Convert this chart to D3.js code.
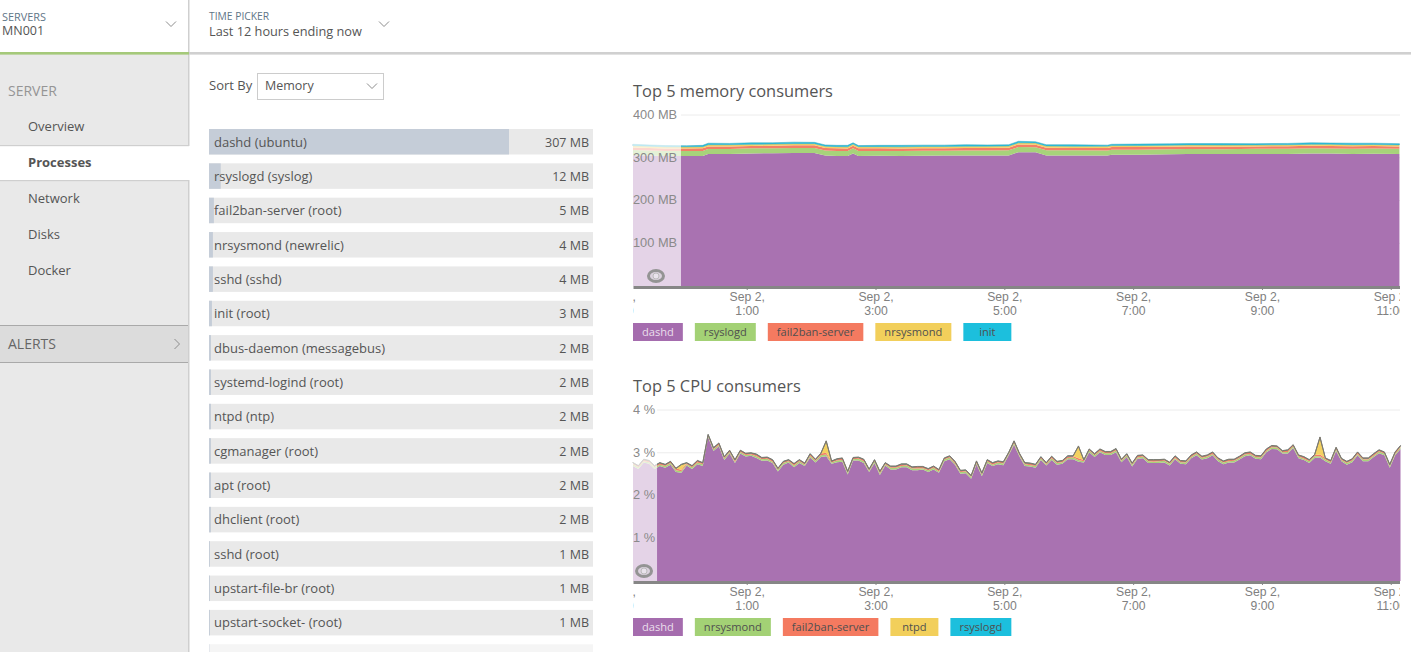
<!DOCTYPE html>
<html>
<head>
<meta charset="utf-8">
<title>Processes</title>
<script src="https://cdn.jsdelivr.net/npm/d3@7"></script>
<style>
  html, body { margin: 0; padding: 0; background: #fff; overflow: hidden; }
  svg { display: block; font-family: "Open Sans", sans-serif; }
  text { fill: #555; }
</style>
</head>
<body>
<div id="page"></div>
<script>
// left hand process list
var processNames = ['dashd (ubuntu)', 'rsyslogd (syslog)', 'fail2ban-server (root)', 'nrsysmond (newrelic)', 'sshd (sshd)', 'init (root)', 'dbus-daemon (messagebus)', 'systemd-logind (root)', 'ntpd (ntp)', 'cgmanager (root)', 'apt (root)', 'dhclient (root)', 'sshd (root)', 'upstart-file-br (root)', 'upstart-socket- (root)', 'rpcbind (root)'];
var processMemory = [307, 12, 5, 4, 4, 3, 2, 2, 2, 2, 2, 2, 1, 1, 1, 1];
var navItems = ['Overview', 'Processes', 'Network', 'Disks', 'Docker'];

// memory chart, sampled at minutes after the left edge of the chart
var memMinutes = [0, 15, 30, 50, 65, 70, 90, 110, 130, 150, 169, 179, 190, 200, 205, 210, 230, 250, 270, 290, 310, 330, 350, 359, 375, 385, 410, 442, 446, 470, 500, 517, 550, 580, 610, 632, 650, 670, 690, 714];
var memDashd = [306, 305, 304, 304, 304, 308.5, 309, 310, 310.5, 311, 311, 305, 304, 304, 310, 304, 304.5, 304, 304.5, 305, 305, 305, 305.5, 313, 313, 305.5, 305.5, 305.5, 307, 307, 308, 308.6, 308.6, 309, 309, 310, 310, 309, 309.5, 309];
var memRsyslogd = [12, 12, 11.5, 11.5, 12, 12, 11.5, 12, 11.5, 12, 12, 12, 12, 11.5, 12, 12, 11.5, 12, 12, 11.5, 12, 12, 12, 12, 11.5, 12, 12, 11.5, 12, 12, 12, 12, 11.5, 12, 12, 12, 11.5, 12, 12, 12];
var memFail2ban = [6, 6, 6, 6, 6, 6, 6, 5.5, 6, 6, 6, 6, 6, 6, 6, 6, 6, 5.5, 6, 6, 6, 6, 6, 6, 6, 6, 5.5, 6, 6, 6, 5.5, 5.5, 5.5, 5.5, 6, 6, 6, 6, 6, 5.5];
var memNrsysmond = [4, 4, 4, 4, 4, 4, 4, 4, 4, 4, 4, 4, 4, 4, 4, 4, 4, 4, 4, 4, 4, 4, 4, 4, 4, 4, 4, 4, 3.5, 3.5, 4, 4, 4, 3.5, 3.5, 3.5, 4, 3.5, 3.5, 3.5];
var memInit = [3.5, 3, 3, 2.5, 3, 3.5, 3, 3.5, 3, 3.5, 3, 3, 3, 3.5, 3, 2.5, 3, 3.5, 3, 3, 3.5, 3, 3, 3.5, 3, 3, 3.5, 2.5, 3, 3.5, 3, 3, 3.5, 3, 3, 3.5, 3, 3.5, 3, 3];

// cpu chart, one sample every five minutes
var cpuDashd = [
  2.69, 2.62, 2.77, 2.74, 2.62, 2.69, 2.65, 2.72, 2.55, 2.53, 2.70, 2.62,
  2.73, 2.69, 3.36, 3.04, 3.15, 2.83, 2.98, 2.76, 2.98, 2.91, 2.93, 2.88,
  2.81, 2.82, 2.76, 2.56, 2.72, 2.77, 2.66, 2.76, 2.69, 2.89, 2.77, 2.90,
  2.92, 2.74, 2.78, 2.79, 2.49, 2.82, 2.82, 2.76, 2.55, 2.76, 2.48, 2.70,
  2.61, 2.61, 2.66, 2.66, 2.59, 2.59, 2.61, 2.55, 2.61, 2.53, 2.80, 2.85,
  2.72, 2.51, 2.52, 2.39, 2.73, 2.45, 2.76, 2.69, 2.73, 2.71, 2.94, 3.19,
  2.91, 2.69, 2.68, 2.65, 2.83, 2.70, 2.83, 2.72, 2.74, 2.85, 2.85, 2.79,
  2.77, 3.01, 2.90, 3.01, 2.95, 2.95, 3.01, 2.78, 2.90, 2.68, 2.86, 2.87,
  2.76, 2.76, 2.76, 2.77, 2.70, 2.85, 2.74, 2.73, 2.87, 2.94, 2.84, 2.87,
  2.94, 2.80, 2.73, 2.77, 2.77, 2.84, 2.92, 2.94, 2.86, 2.85, 3.01, 3.09,
  3.08, 2.98, 2.98, 3.11, 2.87, 2.83, 2.76, 2.88, 2.89, 2.80, 2.74, 3.04,
  2.80, 2.72, 2.78, 2.94, 2.80, 2.80, 2.90, 2.99, 2.94, 2.65, 2.94, 3.09
];
var cpuNrsysmond = [
  .04, .04, .03, .04, .04, .03, .04, .04, .04, .04, .03, .04,
  .04, .04, .03, .04, .03, .04, .04, .03, .04, .04, .03, .04,
  .04, .04, .03, .04, .04, .03, .04, .04, .03, .04, .04, .04,
  .04, .03, .04, .04, .04, .03, .04, .04, .03, .04, .04, .03,
  .04, .04, .03, .04, .04, .04, .03, .04, .04, .03, .04, .04,
  .03, .04, .04, .04, .03, .04, .04, .03, .04, .04, .03, .04,
  .04, .04, .03, .04, .04, .03, .04, .04, .04, .03, .04, .04,
  .03, .04, .04, .03, .04, .04, .04, .03, .04, .04, .03, .04,
  .04, .03, .04, .04, .04, .03, .04, .04, .03, .04, .04, .04,
  .03, .04, .04, .03, .04, .04, .04, .03, .04, .04, .03, .04,
  .04, .03, .04, .04, .04, .03, .04, .04, .03, .04, .04, .04,
  .03, .04, .04, .03, .04, .04, .03, .04, .04, .04, .03, .04
];
var cpuFail2ban = [
  .03, .03, .04, .03, .03, .04, .03, .03, .04, .03, .03, .03,
  .04, .03, .03, .03, .04, .03, .03, .04, .03, .03, .03, .04,
  .03, .03, .04, .03, .03, .03, .04, .03, .03, .04, .03, .04,
  .04, .03, .03, .04, .03, .03, .03, .04, .03, .03, .04, .03,
  .03, .03, .04, .03, .03, .04, .03, .03, .03, .04, .03, .03,
  .04, .03, .03, .03, .04, .03, .03, .04, .03, .03, .03, .04,
  .03, .03, .04, .03, .03, .03, .04, .03, .03, .04, .03, .04,
  .03, .03, .03, .04, .03, .03, .04, .03, .03, .03, .04, .03,
  .03, .04, .03, .03, .03, .04, .03, .03, .04, .03, .03, .03,
  .04, .03, .03, .04, .03, .03, .03, .04, .03, .03, .04, .03,
  .03, .03, .04, .03, .03, .04, .03, .03, .04, .03, .03, .04,
  .03, .03, .03, .04, .03, .03, .04, .03, .03, .03, .04, .03
];
var cpuNtpd = [
  0, 0, 0, 0, 0, 0, 0, 0, 0, .12, 0, 0,
  0, 0, 0, 0, 0, 0, 0, 0, 0, 0, 0, 0,
  0, 0, 0, 0, 0, 0, 0, 0, 0, 0, 0, 0,
  .27, 0, 0, 0, 0, 0, 0, 0, 0, 0, 0, 0,
  0, 0, 0, 0, 0, 0, 0, 0, 0, 0, 0, 0,
  0, 0, 0, 0, 0, 0, 0, 0, 0, 0, 0, 0,
  0, 0, 0, 0, 0, 0, 0, 0, 0, 0, 0, .28,
  0, 0, 0, 0, 0, 0, 0, 0, 0, 0, 0, 0,
  0, 0, 0, 0, 0, 0, 0, 0, 0, 0, 0, 0,
  0, 0, 0, 0, 0, 0, 0, 0, 0, 0, 0, 0,
  0, 0, 0, 0, 0, 0, 0, 0, .40, 0, 0, 0,
  0, 0, 0, 0, 0, 0, 0, 0, 0, 0, 0, 0
];
var cpuRsyslogd = [
  .01, .01, .01, .01, .01, .01, .01, .01, .01, .01, .01, .01,
  .01, .01, .01, .01, .01, .01, .01, .01, .01, .01, .01, .01,
  .01, .01, .01, .01, .01, .01, .01, .01, .01, .01, .01, .01,
  .01, .01, .01, .01, .01, .01, .01, .01, .01, .01, .01, .01,
  .01, .01, .01, .01, .01, .01, .01, .01, .01, .01, .01, .01,
  .01, .01, .01, .01, .01, .01, .01, .01, .01, .01, .01, .01,
  .01, .01, .01, .01, .01, .01, .01, .01, .01, .01, .01, .01,
  .01, .01, .01, .01, .01, .01, .01, .01, .01, .01, .01, .01,
  .01, .01, .01, .01, .01, .01, .01, .01, .01, .01, .01, .01,
  .01, .01, .01, .01, .01, .01, .01, .01, .01, .01, .01, .01,
  .01, .01, .01, .01, .01, .01, .01, .01, .01, .01, .01, .01,
  .01, .01, .01, .01, .01, .01, .01, .01, .01, .01, .01, .01
];

var memTicks = [100, 200, 300, 400];
var cpuTicks = [1, 2, 3, 4];
var timeTickHours = [-1, 1, 3, 5, 7, 9, 11];
var layerColors = ['#a56cae', '#a3d175', '#f47a60', '#f2cf5b', '#1cbfdd'];

var svg = d3.select('#page').append('svg')
    .attr('width', 1411).attr('height', 652);

var t0 = new Date(2016, 8, 1, 23, 14, 4);
var t1 = new Date(2016, 8, 2, 11, 8, 36);
function minutesAfter(m) { return new Date(t0.getTime() + m * 60000); }

// ---- page chrome ----
svg.append('rect').attr('x', 0).attr('y', 54).attr('width', 188).attr('height', 598).attr('fill', '#e9e9e9');
svg.append('rect').attr('x', 188).attr('y', 0).attr('width', 1.5).attr('height', 652).attr('fill', '#cfcfcf');
svg.append('rect').attr('x', 0).attr('y', 146).attr('width', 190).attr('height', 34).attr('fill', '#fff');
svg.append('rect').attr('x', 0).attr('y', 145).attr('width', 189).attr('height', 1.2).attr('fill', '#cfcfcf');
svg.append('rect').attr('x', 0).attr('y', 180).attr('width', 189).attr('height', 1.2).attr('fill', '#cfcfcf');
svg.append('rect').attr('x', 0).attr('y', 325).attr('width', 188).attr('height', 37).attr('fill', '#dcdcdc');
svg.append('rect').attr('x', 0).attr('y', 325).attr('width', 188).attr('height', 1).attr('fill', '#a9a9a9');
svg.append('rect').attr('x', 0).attr('y', 362).attr('width', 188).attr('height', 1).attr('fill', '#a9a9a9');
svg.append('rect').attr('x', 189).attr('y', 52).attr('width', 1222).attr('height', 2.6).attr('fill', '#d0d0d0');
svg.append('rect').attr('x', 0).attr('y', 52).attr('width', 189).attr('height', 2.6).attr('fill', '#a5c97a');

function label(x, y, str, size, color, weight) {
    return svg.append('text')
        .attr('x', x).attr('y', y)
        .attr('dominant-baseline', 'central')
        .style('font-size', size + 'px')
        .style('fill', color)
        .style('font-weight', weight || 400)
        .text(str);
}

function chevron(x, y, size, right) {
    var pts = right
        ? [[x - size / 2, y - size], [x + size / 2, y], [x - size / 2, y + size]]
        : [[x - size, y - size / 2], [x, y + size / 2], [x + size, y - size / 2]];
    svg.append('path')
        .attr('d', d3.line()(pts))
        .attr('fill', 'none')
        .attr('stroke', '#8d8d8d')
        .attr('stroke-width', 1);
}

label(2, 16, 'SERVERS', 10.9, '#5f7687');
label(2, 30, 'MN001', 12.5, '#555');
chevron(171, 24, 5);
label(209, 16, 'TIME PICKER', 10.3, '#5f7687');
label(209, 30.5, 'Last 12 hours ending now', 12.75, '#555');
chevron(384, 24, 5);

label(8, 90, 'SERVER', 14, '#959595');
svg.selectAll('text.nav')
    .data(navItems).enter()
    .append('text')
        .attr('class', 'nav')
        .attr('x', 28)
        .attr('y', function (d, i) { return 125.5 + i * 36; })
        .attr('dominant-baseline', 'central')
        .style('font-size', '13px')
        .style('font-weight', function (d) { return d === 'Processes' ? 700 : 400; })
        .text(function (d) { return d; });
label(8, 343.5, 'ALERTS', 14, '#666');
chevron(177, 344, 5, true);

label(209, 84.5, 'Sort By', 13, '#555');
svg.append('rect').attr('x', 257.5).attr('y', 73.5).attr('width', 126).attr('height', 26)
    .attr('fill', '#fff').attr('stroke', '#ccc');
label(265, 85.5, 'Memory', 12.5, '#555');
chevron(372, 86, 5);

// ---- process list ----
var rowX = d3.scaleLinear().domain([0, 307]).range([0, 300]);
var rows = svg.selectAll('g.row')
    .data(processNames).enter()
    .append('g')
        .attr('class', 'row')
        .attr('opacity', function (d, i) { return i === 15 ? 0.45 : 1; })
        .attr('transform', function (d, i) { return 'translate(209,' + (129 + i * 34.35) + ')'; });
rows.append('rect').attr('width', 384).attr('height', 25.5).attr('fill', '#e9e9e9');
rows.append('rect')
    .attr('width', function (d, i) { return rowX(processMemory[i]); })
    .attr('height', 25.5)
    .attr('fill', '#c5cdd8');
rows.append('text')
    .attr('x', 5).attr('y', 12.5)
    .attr('dominant-baseline', 'central')
    .style('font-size', '13px')
    .text(function (d) { return d; });
rows.filter(function (d, i) { return i < 15; }).append('text')
    .attr('x', 380).attr('y', 13)
    .attr('text-anchor', 'end')
    .attr('dominant-baseline', 'central')
    .style('font-size', '12.5px')
    .text(function (d) { return processMemory[processNames.indexOf(d)] + ' MB'; });

// ---- stacked charts ----
var clipId = 0;
function drawChart(opts) {
    var g = svg.append('g');
    var left = 633, right = 1400;
    var x = d3.scaleTime().domain([t0, t1]).range([left, right]);
    var y = d3.scaleLinear().domain([0, opts.max]).range([opts.bottom, opts.top]);

    clipId++;
    svg.append('clipPath').attr('id', 'clip' + clipId)
        .append('rect').attr('x', left).attr('y', opts.top - 40).attr('width', right - left).attr('height', 240);

    var rowsData = opts.minutes.map(function (m, i) {
        var row = { t: minutesAfter(m) };
        opts.keys.forEach(function (k, j) { row[k] = opts.series[j][i]; });
        return row;
    });
    var layers = d3.stack().keys(opts.keys)(rowsData);
    var area = d3.area()
        .x(function (d) { return x(d.data.t); })
        .y0(function (d) { return y(d[0]); })
        .y1(function (d) { return y(d[1]); });

    var gridLeft = x(opts.hiddenUntil);
    g.selectAll('line.grid')
        .data(opts.ticks).enter()
        .append('line')
            .attr('class', 'grid')
            .attr('x1', gridLeft).attr('x2', right)
            .attr('y1', function (d) { return y(d); })
            .attr('y2', function (d) { return y(d); })
            .attr('stroke', '#ececec');

    g.selectAll('path.layer')
        .data(layers).enter()
        .append('path')
            .attr('class', 'layer')
            .attr('d', area)
            .attr('fill', function (d, i) { return layerColors[i]; })
            .attr('fill-opacity', 0.96)
            .attr('stroke', function (d, i) { return i === 4 ? opts.edge : 'none'; })
            .attr('stroke-width', opts.strokeWidth);

    g.append('rect')
        .attr('x', left).attr('y', opts.top)
        .attr('width', gridLeft - left)
        .attr('height', opts.bottom - opts.top)
        .attr('fill', '#fff').attr('opacity', 0.69);

    // the hidden-range eye
    var eyeX = (left + gridLeft) / 2 - 1;
    g.append('ellipse')
        .attr('cx', eyeX).attr('cy', opts.bottom - 10)
        .attr('rx', 7.5).attr('ry', 5.5)
        .attr('fill', '#dcd2df').attr('stroke', '#949494').attr('stroke-width', 3);
    g.append('circle')
        .attr('cx', eyeX).attr('cy', opts.bottom - 10).attr('r', 3)
        .attr('fill', '#e9e3ec').attr('stroke', '#bbb');

    var yAxis = d3.axisRight(y)
        .tickValues(opts.ticks)
        .tickSize(0)
        .tickFormat(function (d) { return d + opts.unit; });
    var yg = g.append('g').attr('transform', 'translate(' + left + ',-0.7)').call(yAxis);
    yg.select('.domain').remove();
    yg.selectAll('text')
        .attr('x', 0)
        .style('font-size', '12.8px')
        .style('fill', '#8a8a8a');

    var tickDates = timeTickHours.map(function (h) { return new Date(2016, 8, 2, h); });
    var xAxis = d3.axisBottom(x)
        .tickValues(tickDates)
        .tickSize(3)
        .tickSizeOuter(0);
    var xg = g.append('g')
        .attr('clip-path', 'url(#clip' + clipId + ')')
        .append('g')
        .attr('transform', 'translate(0,' + (opts.bottom + 1) + ')')
        .call(xAxis);
    xg.select('.domain').attr('stroke', '#868686').attr('stroke-width', 3);
    xg.selectAll('.tick line').attr('stroke', '#868686').attr('y1', 1);
    xg.selectAll('.tick text').each(function (d) {
        var t = d3.select(this).text('').attr('y', 0).attr('dy', null);
        t.append('tspan').attr('x', 0).attr('y', 14)
            .text(d3.timeFormat('%b %-d,')(d));
        t.append('tspan').attr('x', 0).attr('y', 28)
            .text(d3.timeFormat('%-H:00')(d));
    }).style('font-size', '12.2px').style('fill', '#808080');

    // legend
    var lx = left;
    opts.keys.forEach(function (k, i) {
        var box = g.append('rect')
            .attr('x', lx).attr('y', opts.legendY)
            .attr('height', 18)
            .attr('fill', layerColors[i]);
        var txt = g.append('text')
            .attr('y', opts.legendY + 8.5)
            .attr('text-anchor', 'middle')
            .attr('dominant-baseline', 'central')
            .style('font-size', '11.1px')
            .style('fill', i === 0 ? '#eadfec' : '#4f4f4f')
            .text(k);
        var w = Math.max(48, txt.node().getComputedTextLength() + 18);
        box.attr('width', w);
        txt.attr('x', lx + w / 2);
        lx += w + 12;
    });

    label(left, opts.titleY, opts.title, 16.4, '#555');
}

drawChart({
    title: 'Top 5 memory consumers', titleY: 90,
    top: 115, bottom: 286, max: 400,
    minutes: memMinutes,
    keys: ['dashd', 'rsyslogd', 'fail2ban-server', 'nrsysmond', 'init'],
    series: [memDashd, memRsyslogd, memFail2ban, memNrsysmond, memInit],
    edge: '#3aa7bd', strokeWidth: 0.5,
    ticks: memTicks, unit: ' MB',
    hiddenUntil: minutesAfter(44.7),
    legendY: 323
});

drawChart({
    title: 'Top 5 CPU consumers', titleY: 385,
    top: 410, bottom: 581, max: 4,
    minutes: cpuDashd.map(function (d, i) { return i * 5; }),
    keys: ['dashd', 'nrsysmond', 'fail2ban-server', 'ntpd', 'rsyslogd'],
    series: [cpuDashd, cpuNrsysmond, cpuFail2ban, cpuNtpd, cpuRsyslogd],
    edge: '#7d7a70', strokeWidth: 1,
    ticks: cpuTicks, unit: ' %',
    hiddenUntil: minutesAfter(22.4),
    legendY: 618
});
</script>
</body>
</html>
